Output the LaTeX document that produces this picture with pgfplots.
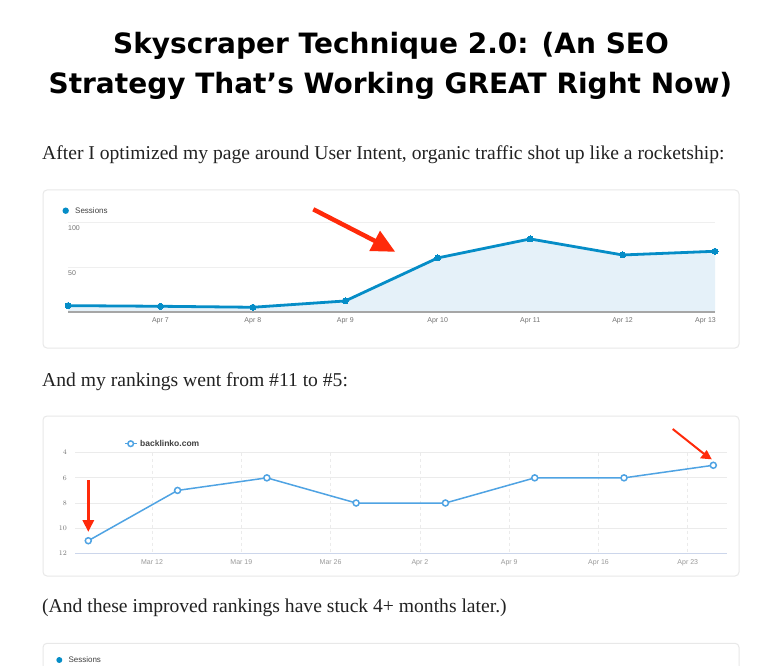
\documentclass[border=0pt]{standalone}
\usepackage{pgfplots}
\pgfplotsset{compat=1.18}
\usepackage{fontspec}
\setmainfont{Liberation Serif}
\newfontfamily\titlefont{DejaVu Sans}
\newfontfamily\uifont{Liberation Sans}
\definecolor{gablue}{HTML}{058DC7}
\definecolor{gafill}{HTML}{E5F1F9}
\definecolor{hcblue}{HTML}{4FA3E3}
\definecolor{arrowred}{HTML}{FF2A0A}
\definecolor{cardborder}{HTML}{E8E8E8}
\definecolor{gridc}{HTML}{EFEFEF}
\definecolor{hcgrid}{HTML}{EBEBEB}
\definecolor{hcaxis}{HTML}{CCD6EB}
\definecolor{bodytext}{HTML}{222222}
\begin{document}
\begin{tikzpicture}[x=1pt,y=1pt]
\useasboundingbox (0,0) rectangle (773,665);
\fill[white] (0,0) rectangle (773,665);
% title
\node[anchor=base, inner sep=0pt, font=\titlefont\bfseries\fontsize{28}{30}\selectfont] at (391,611.7) {Skyscraper Technique 2.0: (An SEO};
\node[anchor=base, inner sep=0pt, font=\titlefont\bfseries\fontsize{28}{30}\selectfont] at (390.4,571) {Strategy That’s Working GREAT Right Now)};
% body text
\node[anchor=base west, inner sep=0pt, text=bodytext, font=\fontsize{19.6}{21}\selectfont] at (42,505) {After I optimized my page around User Intent, organic traffic shot up like a rocketship:};
\node[anchor=base west, inner sep=0pt, text=bodytext, font=\fontsize{19.6}{21}\selectfont] at (42,279) {And my rankings went from \#11 to \#5:};
\node[anchor=base west, inner sep=0pt, text=bodytext, font=\fontsize{19.6}{21}\selectfont] at (42,53) {(And these improved rankings have stuck 4+ months later.)};
% cards
\draw[cardborder, line width=1pt, rounded corners=4pt] (43,475) rectangle (739,317);
\draw[cardborder, line width=1pt, rounded corners=4pt] (43,249) rectangle (739,89);
\draw[cardborder, line width=1pt, rounded corners=4pt] (43,-20) -- (43,21.7) -- (739,21.7) -- (739,-20);
% chart 1
\begin{axis}[at={(391.5pt,397.7pt)}, anchor=center, scale only axis,
  width=647pt, height=90pt, xmin=0, xmax=7, ymin=0, ymax=100,
  axis line style={draw=none}, major tick length=0pt,
  ytick={50,100}, yticklabels={}, ymajorgrids,
  grid style={gridc, line width=0.8pt},
  xtick={1,2,3,4,5,6}, xticklabels={Apr 7,Apr 8,Apr 9,Apr 10,Apr 11,Apr 12},
  xticklabel style={font=\uifont\fontsize{7}{8}\selectfont, text=black!55, inner sep=0pt, yshift=-5pt},
  clip=false]
\addplot[draw=none, fill=gafill] coordinates {(0,7.4)(1,6.7)(2,5.6)(3,12.6)(4,60.4)(5,81.5)(6,63.7)(7,67.8)} \closedcycle;
\draw[black!35, line width=2pt] (axis cs:0,0) -- (axis cs:7,0);
\addplot[gablue, line width=2.8pt, mark=*, mark size=3pt, mark options={fill=gablue, draw=gablue, line width=0pt}] coordinates {(0,7.4)(1,6.7)(2,5.6)(3,12.6)(4,60.4)(5,81.5)(6,63.7)(7,67.8)};
\node[anchor=north west, inner sep=0pt, font=\uifont\fontsize{7}{8}\selectfont, text=black!55] at ([yshift=-3pt]axis cs:0,100) {100};
\node[anchor=north west, inner sep=0pt, font=\uifont\fontsize{7}{8}\selectfont, text=black!55] at ([yshift=-3pt]axis cs:0,50) {50};
\node[anchor=north east, inner sep=0pt, font=\uifont\fontsize{7}{8}\selectfont, text=black!55] at ([yshift=-5pt,xshift=1pt]axis cs:7,0) {Apr 13};
\end{axis}
% legend chart 1
\fill[gablue] (65.7,454.3) circle (3.2);
\node[anchor=west, inner sep=0pt, font=\uifont\fontsize{8}{9}\selectfont, text=black!75] at (75,454.3) {Sessions};
% arrow 1
\draw[arrowred, line width=4.5pt] (313.3,455.7) -- (376,423.5);
\fill[arrowred] (395,413.3) -- (369.3,414) -- (380,434.3) -- cycle;
% chart 2
\begin{axis}[at={(400.85pt,162pt)}, anchor=center, scale only axis,
  width=651.7pt, height=100.6pt, xmin=4.96, xmax=56.05, ymin=4, ymax=12, y dir=reverse,
  axis line style={draw=none}, major tick length=0pt,
  ytick={4,6,8,10,12},
  xtick={11,18,25,32,39,46,53}, xticklabels={Mar 12,Mar 19,Mar 26,Apr 2,Apr 9,Apr 16,Apr 23},
  ymajorgrids, xmajorgrids,
  y grid style={hcgrid, line width=0.8pt},
  x grid style={hcgrid, dashed, line width=0.8pt},
  xticklabel style={font=\uifont\fontsize{7}{8}\selectfont, text=black!40, inner sep=0pt, yshift=-6pt},
  yticklabel style={font=\uifont\fontsize{7.5}{8}\selectfont, text=black!55, inner sep=0pt, xshift=-8pt},
  clip=false]
\draw[hcaxis, line width=1pt] (axis cs:4.96,12) -- (axis cs:56.05,12);
\addplot[hcblue, line width=1.5pt, mark=*, mark size=3pt, mark options={fill=white, draw=hcblue, line width=1.5pt}] coordinates {(6,11)(13,7)(20,6)(27,8)(34,8)(41,6)(48,6)(55,5)};
\end{axis}
% legend chart 2
\draw[hcblue, line width=1.5pt] (125,221.3) -- (136.5,221.3);
\filldraw[fill=white, draw=hcblue, line width=1.5pt] (130.7,221.3) circle (2.8);
\node[anchor=west, inner sep=0pt, font=\uifont\bfseries\fontsize{8.5}{9}\selectfont, text=black!75] at (140,221.3) {backlinko.com};
% arrows chart 2
\draw[arrowred, line width=2.5pt] (88.3,185) -- (88.3,144);
\fill[arrowred] (82.3,145) -- (94.3,145) -- (88.3,133.3) -- cycle;
\draw[arrowred, line width=2pt] (672.7,236) -- (703.8,211.3);
\fill[arrowred] (711.7,205.7) -- (700,206.7) -- (706.7,215) -- cycle;
% third card legend
\fill[gablue] (59.3,5) circle (3);
\node[anchor=west, inner sep=0pt, font=\uifont\fontsize{8}{9}\selectfont, text=black!75] at (68.3,5) {Sessions};
\end{tikzpicture}
\end{document}
